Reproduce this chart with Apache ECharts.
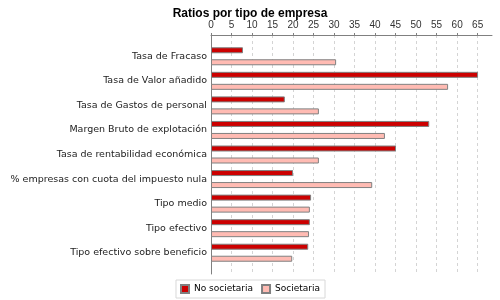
<!DOCTYPE HTML>
<html lang="es">
<head>
<meta charset="utf-8">
<title>Ratios por tipo de empresa</title>
<style type="text/css">
html,body{margin:0;padding:0;width:500px;height:300px;background:#fff;}
#container{width:500px;height:300px;}
</style>
</head>
<body>
<div id="container"></div>
<script src="https://cdn.jsdelivr.net/npm/echarts@6/dist/echarts.min.js"></script>
<script>
// datos
var categorias = ['Tasa de Fracaso','Tasa de Valor añadido','Tasa de Gastos de personal','Margen Bruto de explotación','Tasa de rentabilidad económica','% empresas con cuota del impuesto nula','Tipo medio','Tipo efectivo','Tipo efectivo sobre beneficio'];
var noSocietaria = [7.8, 65.1, 18.0, 53.2, 45.1, 20.0, 24.4, 24.1, 23.7];
var societaria = [30.5, 57.8, 26.3, 42.4, 26.3, 39.3, 24.1, 23.9, 19.8];
var series_names = ['No societaria','Societaria'];
var xMax = 68.5;

var fuente = 'Liberation Sans, Arial, sans-serif';
var fuenteEtiq = 'DejaVu Sans, sans-serif';
var gris = '#808080';

var dom = document.getElementById('container');
var myChart = echarts.init(dom);
var option = {
    animation: false,
    title: {
        text: 'Ratios por tipo de empresa',
        left: 'center',
        top: 3,
        textStyle: {fontSize: 12, fontWeight: 'bold', color: '#000', fontFamily: fuente}
    },
    legend: {
        data: series_names,
        bottom: 2,
        left: 'center',
        itemWidth: 8,
        itemHeight: 8,
        itemGap: 8,
        padding: [4, 5, 4, 4],
        borderColor: '#d8d8d8',
        borderWidth: 1,
        icon: 'rect',
        textStyle: {fontSize: 9, color: '#000', fontFamily: fuenteEtiq}
    },
    grid: [
        // marco (ejes y rejilla)
        {left: 211, right: 8, top: 35, bottom: 26},
        // barras
        {left: 211, right: 8, top: 44, bottom: 35}
    ],
    xAxis: [
        {
            gridIndex: 0,
            type: 'value',
            position: 'top',
            min: 0,
            max: xMax,
            interval: 5,
            axisLine: {show: true, lineStyle: {color: gris}},
            axisTick: {show: true, length: 2, lineStyle: {color: gris}},
            axisLabel: {fontSize: 10, color: '#333', fontFamily: fuente, margin: 5, showMaxLabel: false},
            splitLine: {show: true, showMaxLine: false, lineStyle: {color: '#d4d4d4', type: [3, 3]}}
        },
        {
            gridIndex: 1,
            type: 'value',
            min: 0,
            max: xMax,
            show: false
        }
    ],
    yAxis: [
        {
            gridIndex: 0,
            type: 'category',
            data: categorias,
            inverse: true,
            axisLine: {show: true, lineStyle: {color: gris}},
            axisTick: {show: false},
            axisLabel: {show: false},
            splitLine: {show: false}
        },
        {
            gridIndex: 1,
            type: 'category',
            data: categorias,
            inverse: true,
            axisLine: {show: false},
            axisTick: {show: false},
            axisLabel: {fontSize: 9.5, color: '#222', fontFamily: fuenteEtiq, margin: 4},
            splitLine: {show: false}
        }
    ],
    series: [
        {
            name: series_names[0],
            type: 'bar',
            xAxisIndex: 1,
            yAxisIndex: 1,
            data: noSocietaria,
            barWidth: 6,
            barGap: '100%',
            itemStyle: {color: '#cc0000', borderColor: gris, borderWidth: 1}
        },
        {
            name: series_names[1],
            type: 'bar',
            xAxisIndex: 1,
            yAxisIndex: 1,
            data: societaria,
            barWidth: 6,
            barGap: '100%',
            itemStyle: {color: '#ffbbb3', borderColor: gris, borderWidth: 1}
        }
    ]
};
myChart.setOption(option, true);
</script>
</body>
</html>
